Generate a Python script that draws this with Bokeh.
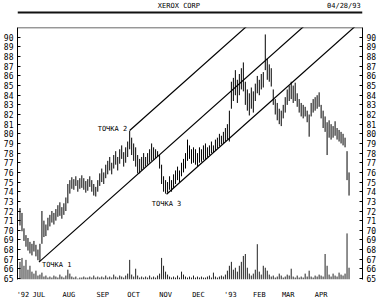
from bokeh.plotting import figure
from bokeh.models import Range1d, LinearAxis, FixedTicker, Span
from bokeh.layouts import column
from bokeh.embed import file_html
from bokeh.resources import INLINE
from bokeh.core.properties import value

title_text = "XEROX CORP"
date_text = "04/28/93"

# trading-day positions (chart day index)
day = list(range(2, 334, 2))

high = [
    72.3, 71.8, 70.2, 69.5, 69.2, 68.8, 68.6, 68.9, 68.5, 68.0, 68.6, 72.0, 71.0, 70.6, 71.3, 71.6, 72.0, 71.8, 72.2, 72.6,
    72.9, 72.4, 72.8, 73.4, 74.8, 75.2, 75.5, 75.3, 75.6, 75.2, 75.4, 75.7, 75.4, 75.1, 75.3, 75.6, 75.2, 74.8, 74.5, 75.2, 75.9,
    76.4, 76.0, 76.8, 77.2, 77.6, 77.0, 77.8, 78.2, 77.6, 78.4, 78.8, 78.1, 78.6, 79.2, 80.3, 79.6, 79.0, 78.6, 77.8, 77.4,
    77.6, 78.0, 77.6, 78.0, 78.4, 79.0, 78.6, 78.4, 78.2, 77.8,
    76.8, 75.6, 75.2, 75.0, 75.6, 75.2, 75.8, 76.2, 76.6, 76.2, 77.0, 77.4, 78.0, 79.4, 78.8, 78.4, 78.6, 78.4, 78.0, 78.6,
    78.4, 78.8, 79.0, 78.6, 78.8, 79.2, 78.8, 79.4, 79.6, 80.0, 79.8, 80.2, 80.6, 81.0, 82.4, 85.4, 85.8, 86.6, 85.6, 86.2,
    86.8, 87.4, 85.4, 84.6, 84.2, 84.8, 84.4, 85.2, 86.0, 85.6, 86.2, 86.4, 90.3, 87.8, 87.2, 86.8, 84.6, 83.6, 83.2, 82.6,
    82.4, 83.0, 83.8, 84.6, 85.0, 85.4, 85.0, 85.3, 84.2, 83.6, 83.2, 83.0, 82.8, 82.4, 82.0, 83.2, 83.6, 83.8, 84.0, 84.3,
    83.0, 82.4, 81.8, 81.2, 81.4, 81.0, 80.8, 81.3, 80.6, 80.4, 80.2, 80.0, 79.6, 78.2, 76.0,
]
low = [
    70.5, 69.9, 68.9, 68.3, 67.9, 67.6, 67.4, 67.8, 67.3, 66.9, 66.8, 68.6, 69.3, 69.4, 70.0, 70.4, 70.8, 70.6, 71.0, 71.4,
    71.5, 71.2, 71.6, 72.0, 72.8, 73.8, 74.3, 74.2, 74.6, 74.0, 74.3, 74.4, 74.2, 73.9, 74.1, 74.5, 74.0, 73.6, 73.5, 74.0, 74.6,
    75.0, 74.8, 75.4, 75.8, 76.2, 75.8, 76.4, 76.8, 76.2, 76.9, 77.4, 76.6, 77.0, 77.6, 78.4, 77.8, 77.2, 76.6, 75.9, 75.9,
    76.2, 76.4, 76.6, 76.8, 77.0, 77.2, 77.3, 77.5, 77.6, 76.4,
    74.8, 74.0, 73.8, 73.9, 74.2, 74.0, 74.4, 74.8, 75.2, 75.0, 75.6, 76.0, 76.4, 77.2, 77.4, 76.9, 77.0, 76.8, 76.6, 77.0,
    77.1, 77.3, 77.4, 77.6, 77.8, 78.0, 78.1, 78.3, 78.5, 78.7, 78.9, 79.0, 79.2, 79.4, 79.2, 82.6, 83.4, 84.0, 83.2, 84.0,
    84.6, 84.4, 83.0, 82.4, 81.9, 82.6, 82.2, 83.4, 84.2, 84.0, 84.6, 84.8, 86.6, 85.6, 85.4, 84.9, 83.0, 82.0, 81.4, 81.0,
    80.8, 81.6, 82.2, 83.0, 83.4, 83.6, 83.2, 83.4, 82.8, 82.2, 81.8, 81.6, 81.8, 81.2, 79.7, 81.8, 82.2, 82.4, 82.6, 82.8,
    81.6, 80.6, 80.2, 77.8, 79.6, 79.4, 79.6, 79.8, 79.4, 79.2, 79.0, 78.8, 78.6, 75.2, 73.6,
]
# volume, in 10,000 shares
volume = [
    180, 220, 140, 200, 100, 140, 80, 60, 90, 40, 50, 70, 30, 40, 20, 30, 20, 40, 30, 20,
    50, 30, 20, 40, 100, 60, 30, 20, 30, 10, 20, 20, 30, 20, 20, 30, 20, 40, 20, 30, 20,
    30, 20, 40, 20, 30, 20, 50, 30, 20, 40, 30, 20, 40, 60, 200, 50, 30, 110, 40, 20,
    30, 20, 30, 20, 40, 20, 30, 20, 40, 60,
    220, 140, 80, 50, 30, 20, 30, 20, 40, 20, 80, 50, 30, 20, 30, 20, 40, 20, 30, 20,
    30, 20, 20, 30, 40, 20, 70, 30, 20, 30, 40, 30, 50, 90, 140, 180, 100, 120, 80, 140,
    180, 240, 260, 120, 60, 40, 60, 100, 360, 80, 50, 140, 120, 90, 50, 30, 40, 20, 30, 60,
    40, 20, 30, 50, 40, 110, 30, 20, 40, 20, 30, 20, 60, 30, 90, 30, 20, 40, 30, 50,
    40, 30, 260, 140, 50, 30, 60, 40, 30, 70, 50, 40, 60, 470, 120,
]

price_ticks = list(range(65, 91))
month_pos = [5, 21, 51, 85, 116, 148, 181, 213, 242, 271, 304]
month_labels = ["'92", "JUL", "AUG", "SEP", "OCT", "NOV", "DEC", "'93", "FEB", "MAR", "APR"]

point_x = [21, 112, 149]
point_y = [66.7, 80.35, 73.74]
point_names = ["ТОЧКА 1", "ТОЧКА 2", "ТОЧКА 3"]
channel_slope = 0.092

FONT = "DejaVu Sans Mono"

# ---- header strip ----
top = figure(width=389, height=27, x_range=Range1d(0, 389), y_range=Range1d(27, 0),
             output_backend="svg", toolbar_location=None, min_border=0,
             x_axis_type=None, y_axis_type=None, outline_line_color=None)
top.grid.visible = False
top.text(x=[182], y=[5], text=[title_text], text_align="center", text_baseline="middle",
         text_font=value(FONT), text_font_size="7px", text_color="black")
top.text(x=[387], y=[5], text=[date_text], text_align="right", text_baseline="middle",
         text_font=value(FONT), text_font_size="7px", text_color="black")
top.segment(x0=[0], y0=[12], x1=[389], y1=[12], line_width=2, line_color="#111111")

# ---- main chart ----
x_lo, x_hi = -0.5, 345.5
p = figure(width=389, height=274, x_range=Range1d(x_lo, x_hi), y_range=Range1d(64.9, 91.02),
           output_backend="svg", toolbar_location=None,
           min_border_left=16, min_border_right=27, min_border_top=0, min_border_bottom=17,
           outline_line_color=None)
p.grid.visible = False
p.extra_y_ranges = {"vol": Range1d(0, 2570)}

# volume
p.segment(x0=day, y0=[0] * len(day), x1=day, y1=volume, y_range_name="vol",
          line_color="#222222", line_width=1)
# price bars
p.segment(x0=day, y0=low, x1=day, y1=high, line_color="black", line_width=1)

# channel lines from the three points
for px, py in zip(point_x, point_y):
    p.segment(x0=[px], y0=[py], x1=[x_hi], y1=[py + channel_slope * (x_hi - px)],
              line_color="black", line_width=1.2)

p.text(x=[point_x[0] + 3], y=[point_y[0] - 0.3], text=[point_names[0]], text_align="left",
       text_baseline="middle", text_font=value(FONT), text_font_size="7px")
p.text(x=[point_x[1] - 2.5], y=[point_y[1] + 0.2], text=[point_names[1]], text_align="right",
       text_baseline="middle", text_font=value(FONT), text_font_size="7px")
p.text(x=[point_x[2]], y=[point_y[2] - 1.0], text=[point_names[2]], text_align="center",
       text_baseline="middle", text_font=value(FONT), text_font_size="7px")

# top frame line
p.add_layout(Span(location=91.0, dimension="width", line_color="black", line_width=1))


def style_price_axis(ax):
    ax.ticker = FixedTicker(ticks=price_ticks)
    ax.major_tick_in = 3
    ax.major_tick_out = 0
    ax.minor_tick_line_color = None
    ax.axis_line_color = "black"
    ax.major_label_text_font = FONT
    ax.major_label_text_font_size = "8px"
    ax.major_label_text_color = "black"
    ax.major_label_standoff = 4


style_price_axis(p.yaxis[0])
right_axis = LinearAxis()
style_price_axis(right_axis)
p.add_layout(right_axis, "right")

xa = p.xaxis[0]
xa.ticker = FixedTicker(ticks=month_pos)
xa.major_label_overrides = {pos: lab for pos, lab in zip(month_pos, month_labels)}
xa.axis_line_color = None
xa.major_tick_line_color = None
xa.minor_tick_line_color = None
xa.major_label_text_font = FONT
xa.major_label_text_font_size = "7px"
xa.major_label_text_color = "black"
xa.major_label_standoff = 5

layout = column(top, p)
open("out.html", "w").write(file_html(layout, INLINE))
